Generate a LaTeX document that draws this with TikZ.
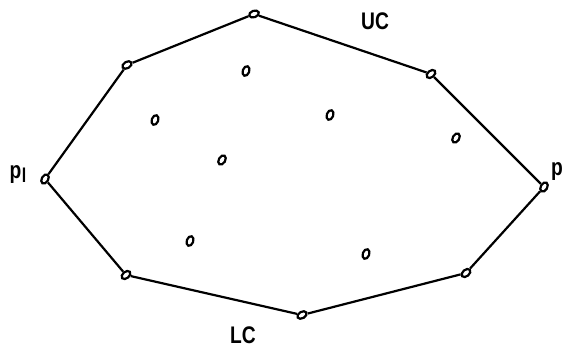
\documentclass[tikz,border=0pt]{standalone}
\usepackage{fontspec}
\setsansfont{Liberation Sans}
\usetikzlibrary{shapes.geometric}

\begin{document}
\begin{tikzpicture}[
        x=1pt, y=-1pt,
        pt/.style={draw, ellipse, line width=2.2pt, inner sep=0pt,
                   minimum width=10pt, minimum height=6.5pt},
        lbl/.style={font=\sffamily\bfseries\fontsize{24}{24}\selectfont, xscale=0.8},
        hull/.style={line width=2.2pt}
      ]
        \useasboundingbox (0,0) rectangle (567,348);
        % hull vertices
        \node[pt, rotate=60]  (pl) at (45,179) {};
        \node[pt, rotate=30]  (h1) at (127,65) {};
        \node[pt, rotate=20]  (h2) at (254,14) {};
        \node[pt, rotate=40]  (h3) at (431,74) {};
        \node[pt, rotate=60]  (pr) at (544,187) {};
        \node[pt, rotate=40]  (h5) at (466,273) {};
        \node[pt, rotate=30]  (h6) at (302,315) {};
        \node[pt, rotate=40]  (h7) at (126,275) {};
        % interior points
        \node[pt, rotate=70] (q1) at (246,71) {};
        \node[pt, rotate=70] (q2) at (155,120) {};
        \node[pt, rotate=70] (q3) at (330,115) {};
        \node[pt, rotate=60] (q4) at (456,138) {};
        \node[pt, rotate=60] (q5) at (222,160) {};
        \node[pt, rotate=70] (q6) at (190,241) {};
        \node[pt, rotate=70] (q7) at (366,254) {};
        % labels
        \node[lbl] (uc) at (375,21) {UC};
        \node[lbl] (lc) at (243,335) {LC};
        \node[lbl] (lpl) at (18,175) {p\kern0.5pt\raisebox{-4pt}{\fontsize{20}{20}\selectfont l}};
        \node[lbl] (lpr) at (557,172) {p};
        \draw[hull] (pl)--(h1)--(h2)--(h3)--(pr)--(h5)--(h6)--(h7)--(pl);
      \end{tikzpicture}
\end{document}
